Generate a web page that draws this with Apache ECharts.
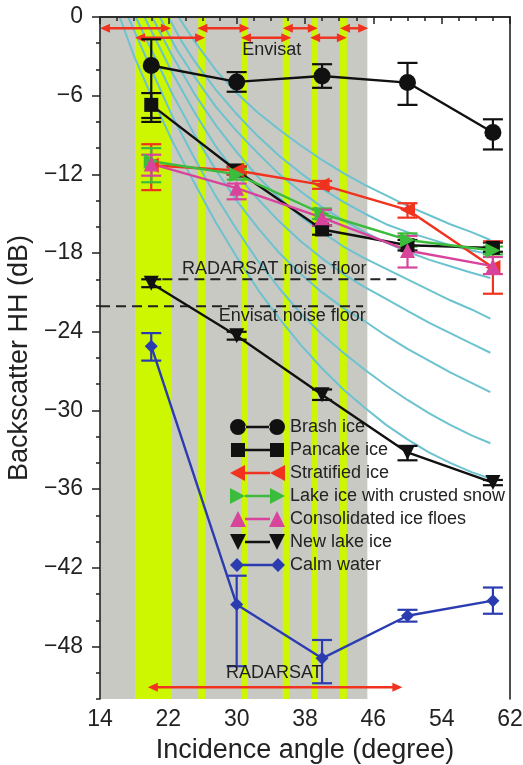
<!DOCTYPE html>
<html><head><meta charset="utf-8">
<script src="https://cdn.jsdelivr.net/npm/echarts@6/dist/echarts.min.js"></script>
<style>html,body{margin:0;padding:0;background:#fff}#c{width:523px;height:765px}</style>
</head><body><div id="c"></div>
<script>
// ---------- data ----------
const angles = [20, 30, 40, 50, 60];
const brash      = [-3.7, -4.95, -4.5, -5.0, -8.8];
const brashLow   = [-8.0, -5.7, -5.4, -6.7, -10.1];
const brashHigh  = [-1.7, -4.2, -3.6, -3.5, -7.8];
const pancake     = [-6.7, -11.7, -16.2, -17.4, -17.6];
const pancakeLow  = [-7.7, -12.0, -16.6, -17.8, -17.9];
const pancakeHigh = [-5.8, -11.4, -15.9, -17.0, -17.2];
const stratified     = [-11.3, -11.7, -12.8, -14.7, -19.1];
const stratifiedLow  = [-13.2, -12.0, -13.1, -15.3, -21.1];
const stratifiedHigh = [-9.7, -11.4, -12.5, -14.2, -17.1];
const lakeIce     = [-11.0, -12.0, -15.0, -17.0, -17.8];
const lakeIceLow  = [-12.6, -12.4, -15.4, -17.5, -18.1];
const lakeIceHigh = [-10.0, -11.6, -14.6, -16.5, -17.5];
const consolidated     = [-11.2, -13.05, -15.3, -17.8, -19.0];
const consolidatedLow  = [-12.1, -13.9, -15.9, -19.1, -19.6];
const consolidatedHigh = [-10.5, -12.7, -14.7, -16.7, -18.3];
const newLake     = [-20.3, -24.3, -28.8, -33.2, -35.5];
const newLakeLow  = [-20.6, -24.6, -29.2, -33.8, -35.7];
const newLakeHigh = [-20.0, -24.0, -28.4, -32.7, -35.3];
const calm     = [-25.1, -44.8, -48.9, -45.65, -44.5];
const calmLow  = [-26.2, -49.5, -50.8, -46.1, -45.5];
const calmHigh = [-24.1, -42.6, -47.5, -45.2, -43.5];

// model curves (incidence angle, dB)
const curve1 = [[16.3,0],[18,-3],[20,-6],[22.5,-9.5],[25,-12.6],[27.5,-15.6],[30,-18.3],[32.5,-20.8],[35,-23],[37.5,-25],[40,-26.8],[42.5,-28.4],[45,-29.8],[47.5,-31.1],[50,-32.2],[52.5,-33.2],[55,-34],[57.5,-34.7],[59.7,-35.2]];
const curve2 = [[17.3,0],[20,-4],[22.5,-7.6],[25,-10.7],[27.5,-13.6],[30,-16.2],[32.5,-18.6],[35,-20.7],[37.5,-22.6],[40,-24.2],[42.5,-25.6],[45,-26.9],[47.5,-28.1],[50,-29.2],[52.5,-30.2],[55,-31.1],[57.5,-31.9],[59.7,-32.5]];
const curve3 = [[18.2,0],[20,-2.5],[22.5,-5.9],[25,-8.9],[27.5,-11.6],[30,-14],[32.5,-16.1],[35,-18],[37.5,-19.6],[40,-21.0],[42.5,-22.2],[45,-23.2],[47.5,-24.3],[50,-25.3],[52.5,-26.2],[55,-27.1],[57.5,-27.9],[59.7,-28.6]];
const curve4 = [[19.2,0],[22.5,-4.3],[25,-7.2],[27.5,-9.8],[30,-12],[32.5,-13.9],[35,-15.6],[37.5,-17.1],[40,-18.4],[42.5,-19.6],[45,-20.6],[47.5,-21.5],[50,-22.4],[52.5,-23.3],[55,-24.1],[57.5,-24.9],[59.7,-25.6]];
const curve5 = [[20.1,0],[22.5,-3],[25,-5.8],[27.5,-8.2],[30,-10.3],[32.5,-12.2],[35,-13.8],[37.5,-15.2],[40,-16.4],[42.5,-17.5],[45,-18.4],[47.5,-19.2],[50,-20.0],[52.5,-20.8],[55,-21.6],[57.5,-22.3],[59.7,-23.0]];
const curve6 = [[21.0,0],[23,-2.5],[25,-4.5],[27.5,-6.8],[30,-8.7],[32.5,-10.4],[35,-12],[37.5,-13.3],[40,-14.5],[42.5,-15.5],[45,-16.4],[47.5,-17.2],[50,-17.9],[52.5,-18.5],[55,-19.0],[57.5,-19.5],[59.7,-19.9]];
const curve7 = [[22.0,0],[23.5,-1.8],[25,-3.3],[27.5,-5.5],[30,-7.4],[32.5,-9.1],[35,-10.6],[37.5,-11.9],[40,-13.1],[42.5,-14.1],[45,-15],[47.5,-15.8],[50,-16.4],[52.5,-16.9],[55,-17.4],[57.5,-17.8],[59.7,-18.1]];
const curve8 = [[23.2,0],[25,-1.8],[27.5,-4],[30,-5.8],[32.5,-7.3],[35,-8.6],[37.5,-9.8],[40,-10.9],[42.5,-11.9],[45,-12.8],[47.5,-13.6],[50,-14.4],[52.5,-15.1],[55,-15.8],[57.5,-16.4],[59.7,-17.0]];
const curves = [curve1, curve2, curve3, curve4, curve5, curve6, curve7, curve8];

// swath ranges
const grayBand = [[14, 45.3]];
const greenBands = [[18.1,22.4],[25.5,26.3],[30.6,31.3],[35.4,36.2],[38.8,39.5],[42.1,42.9]];
const envisatArrows = [[14.0,22.3,-0.86],[25.4,31.5,-0.86],[35.4,39.5,-0.86],[42.1,45.4,-0.86],
                       [18.1,26.3,-1.58],[30.5,36.4,-1.58],[38.6,42.9,-1.58]];
const radarsatArrow = [[19.6,49.4,-51.1]];
const radarsatNoise = [[21.3,-20.0],[48.9,-20.0]];
const envisatNoise  = [[14,-22.05],[44.8,-22.05]];
const notes = [['Envisat',34.1,-2.5],['RADARSAT noise floor',34.4,-19.2],['Envisat noise floor',36.5,-22.8],['RADARSAT',34.4,-50.0]];

const xTicks = [14,22,30,38,46,54,62];
const yTicks = [0,-6,-12,-18,-24,-30,-36,-42,-48];

// ---------- chart ----------
const FONT = "'Liberation Sans', Arial, sans-serif";
const BLACK='#111111', RED='#f0321e', GREEN='#3cbc3c', MAG='#d8449c', BLUE='#2b3cb0';
const chart = echarts.init(document.getElementById('c'), null, {renderer:'canvas'});

function zip(ys){ return angles.map((x,i)=>[x, ys[i]]); }
function errSeries(color, low, high){
  return { type:'custom', silent:true, z:4, clip:false,
    data: angles.map((x,i)=>[x, low[i], high[i]]),
    encode:{x:0, y:[1,2]},
    renderItem(p, api){
      const x=api.value(0), lo=api.coord([x, api.value(1)]), hi=api.coord([x, api.value(2)]);
      const w=10, st={stroke:color, lineWidth:2.2};
      return {type:'group', children:[
        {type:'line', shape:{x1:lo[0],y1:lo[1],x2:hi[0],y2:hi[1]}, style:st},
        {type:'line', shape:{x1:lo[0]-w,y1:lo[1],x2:lo[0]+w,y2:lo[1]}, style:st},
        {type:'line', shape:{x1:hi[0]-w,y1:hi[1],x2:hi[0]+w,y2:hi[1]}, style:st}
      ]};
    }};
}
function bandSeries(bands, color){
  return { type:'custom', silent:true, z:1,
    data: bands, encode:{x:[0,1]},
    renderItem(p, api){
      const a=api.coord([api.value(0), 0]), b=api.coord([api.value(1), -52]);
      return {type:'rect', shape:{x:a[0], y:a[1], width:b[0]-a[0], height:b[1]-a[1]}, style:{fill:color}};
    }};
}
function arrowSeries(arr){
  return { type:'custom', silent:true, z:3, clip:false,
    data: arr, encode:{x:[0,1], y:2},
    renderItem(p, api){
      const y=api.value(2), a=api.coord([api.value(0), y]), b=api.coord([api.value(1), y]);
      const L=10, H=4.5, st={stroke:RED, lineWidth:2.4};
      return {type:'group', children:[
        {type:'line', shape:{x1:a[0]+4,y1:a[1],x2:b[0]-4,y2:b[1]}, style:st},
        {type:'polygon', shape:{points:[[a[0],a[1]],[a[0]+L,a[1]-H],[a[0]+L,a[1]+H]]}, style:{fill:RED}},
        {type:'polygon', shape:{points:[[b[0],b[1]],[b[0]-L,b[1]-H],[b[0]-L,b[1]+H]]}, style:{fill:RED}}
      ]};
    }};
}
function dataSeries(name, ys, color, symbol, size, rotate){
  return { type:'line', name, data: zip(ys), z:5, symbol, symbolSize:size, symbolRotate:rotate||0,
    lineStyle:{color, width:2.4}, itemStyle:{color}, emphasis:{disabled:true}, animation:false };
}
// legend icons (55 x 16 box)
const icons = {
  circle:  'path://M0,8A8,8 0 1,0 16,8A8,8 0 1,0 0,8ZM15,6.8L40,6.8L40,9.2L15,9.2ZM39,8A8,8 0 1,0 55,8A8,8 0 1,0 39,8Z',
  square:  'path://M1,1L15,1L15,15L1,15ZM15,6.8L40,6.8L40,9.2L15,9.2ZM40,1L54,1L54,15L40,15ZM0,0L0.01,0L0.01,0.01ZM55,16L54.99,16L54.99,15.99Z',
  left:    'path://M0,8L15,0L15,16ZM15,6.8L40,6.8L40,9.2L15,9.2ZM40,8L55,0L55,16Z',
  right:   'path://M0,0L15,8L0,16ZM15,6.8L40,6.8L40,9.2L15,9.2ZM40,0L55,8L40,16Z',
  up:      'path://M0,16L8,0L16,16ZM15,6.8L40,6.8L40,9.2L15,9.2ZM39,16L47,0L55,16Z',
  down:    'path://M0,0L16,0L8,16ZM15,6.8L40,6.8L40,9.2L15,9.2ZM39,0L55,0L47,16Z',
  diamond: 'path://M0,8L7,1L14,8L7,15ZM13,6.8L42,6.8L42,9.2L13,9.2ZM41,8L48,1L55,8L48,15ZM0,0L0.01,0L0.01,0.01ZM55,16L54.99,16L54.99,15.99Z'
};

const series = [
  bandSeries(grayBand, '#c9c9c4'),
  bandSeries(greenBands, '#ccf700'),
  ...curves.map(c => ({type:'line', data:c, z:2, symbol:'none', smooth:false, silent:true,
     lineStyle:{color:'#6cc3cf', width:2}, animation:false})),
  {type:'line', data:radarsatNoise, z:3, symbol:'none', silent:true, lineStyle:{color:'#222', width:2, type:[10,6]}},
  {type:'line', data:envisatNoise, z:3, symbol:'none', silent:true, lineStyle:{color:'#222', width:2, type:[10,6]}},
  arrowSeries(envisatArrows),
  arrowSeries(radarsatArrow),
  errSeries(BLACK, brashLow, brashHigh),
  errSeries(BLACK, pancakeLow, pancakeHigh),
  errSeries(RED, stratifiedLow, stratifiedHigh),
  errSeries(GREEN, lakeIceLow, lakeIceHigh),
  errSeries(MAG, consolidatedLow, consolidatedHigh),
  errSeries(BLACK, newLakeLow, newLakeHigh),
  errSeries(BLUE, calmLow, calmHigh),
  dataSeries('Brash ice', brash, BLACK, 'circle', 17),
  dataSeries('Pancake ice', pancake, BLACK, 'rect', 14),
  dataSeries('Stratified ice', stratified, RED, 'triangle', 15, 90),
  dataSeries('Lake ice with crusted snow', lakeIce, GREEN, 'triangle', 15, -90),
  dataSeries('Consolidated ice floes', consolidated, MAG, 'triangle', 15, 0),
  dataSeries('New lake ice', newLake, BLACK, 'triangle', 15, 180),
  dataSeries('Calm water', calm, BLUE, 'diamond', 13),
  { type:'custom', silent:true, z:6, clip:false, data: notes.map(n=>[n[1], n[2]]), encode:{x:0,y:1},
    renderItem(p, api){
      const c = api.coord([api.value(0), api.value(1)]);
      return {type:'text', x:c[0], y:c[1], style:{text:notes[p.dataIndex][0], fill:'#222', font:'18px '+FONT, align:'center', verticalAlign:'middle'}};
    }}
];

const iconFor = {'Brash ice':icons.circle,'Pancake ice':icons.square,'Stratified ice':icons.left,
  'Lake ice with crusted snow':icons.right,'Consolidated ice floes':icons.up,'New lake ice':icons.down,'Calm water':icons.diamond};

chart.setOption({
  animation:false,
  backgroundColor:'#fff',
  textStyle:{fontFamily:FONT},
  grid:{left:100, right:13, top:17, bottom:66, containLabel:false, outerBoundsMode:'none'},
  legend:{orient:'vertical', left:230, top:418, padding:0, itemWidth:55, itemHeight:16, itemGap:5,
    selectedMode:false, textStyle:{fontSize:18, lineHeight:18, color:'#222', fontFamily:FONT},
    data: Object.keys(iconFor).map(n=>({name:n, icon:iconFor[n]}))},
  xAxis:[
    {type:'value', min:14, max:62, interval:8, z:10, position:'bottom',
     name:'Incidence angle (degree)', nameLocation:'middle', nameGap:38,
     nameTextStyle:{fontSize:27, color:'#222', fontFamily:FONT},
     axisLine:{lineStyle:{color:'#222', width:1.6}},
     axisTick:{show:true, inside:false, length:7, lineStyle:{color:'#222', width:1.5}},
     minorTick:{show:true, splitNumber:4, length:4, lineStyle:{color:'#222', width:1.5}},
     axisLabel:{fontSize:23, color:'#222', margin:9, fontFamily:FONT},
     splitLine:{show:false}},
    {type:'value', min:14, max:62, position:'top', z:10,
     axisLine:{lineStyle:{color:'#222', width:1.6}}, axisTick:{show:false}, axisLabel:{show:false}, splitLine:{show:false}}
  ],
  yAxis:[
    {type:'value', min:-52, max:0, interval:2, z:10, position:'left',
     name:'Backscatter HH (dB)', nameLocation:'middle', nameGap:52, nameRotate:90,
     nameTextStyle:{fontSize:27, color:'#222', fontFamily:FONT},
     axisLine:{lineStyle:{color:'#222', width:1.6}},
     axisTick:{show:true, inside:false, length:4, lineStyle:{color:'#222', width:1.5}},
     axisLabel:{fontSize:23, color:'#222', margin:17, fontFamily:FONT,
       formatter:v=> (v%6===0 ? (v===0?'0':'\u2212'+Math.abs(v)) : '')},
     splitLine:{show:false}},
    {type:'value', min:-52, max:0, z:10, position:'left',
     axisLine:{show:false}, axisLabel:{show:false}, splitLine:{show:false},
     axisTick:{show:true, inside:false, length:8, customValues:yTicks, lineStyle:{color:'#222', width:1.5}}},
    {type:'value', min:-52, max:0, z:10, position:'right',
     axisLine:{lineStyle:{color:'#222', width:1.6}}, axisTick:{show:false}, axisLabel:{show:false}, splitLine:{show:false}}
  ],
  series
});
</script></body></html>
